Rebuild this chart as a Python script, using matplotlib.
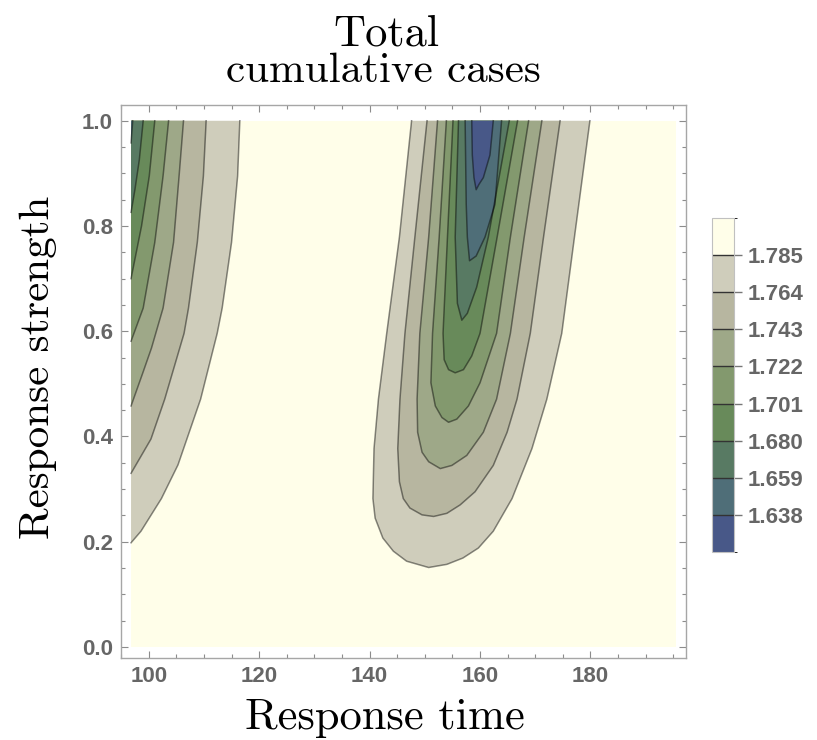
import matplotlib
matplotlib.use("Agg")
import matplotlib.pyplot as plt
from matplotlib.colors import ListedColormap, BoundaryNorm
from matplotlib.cm import ScalarMappable
from matplotlib.ticker import MultipleLocator

plt.rcParams['font.family'] = ['Liberation Sans', 'DejaVu Sans']
plt.rcParams['font.weight'] = 'bold'

# contour levels shown on the colour bar
levels = [1.638, 1.659, 1.680, 1.701, 1.722, 1.743, 1.764, 1.785]
bar_edges = [1.617] + levels + [1.806]
band_colors = ['#485888', '#4f6e78', '#587a63', '#688a5a', '#83996e',
               '#9ea888', '#b7b6a0', '#cfcdbb', '#fffee9']

# plotted data range
x_min, x_max = 96.8, 195.5
y_min, y_max = 0.0, 1.0

# left lobe contours, (response time, response strength), top edge -> left edge
left_1785 = [(116.5, 1.0), (116.1, 0.895), (115.0, 0.769), (113.3, 0.644), (112.4, 0.596),
             (109.4, 0.471), (105.3, 0.346), (102.3, 0.282), (98.6, 0.220), (96.8, 0.198)]
left_1764 = [(110.4, 1.0), (109.9, 0.895), (108.8, 0.769), (107.2, 0.644), (106.4, 0.596),
             (102.9, 0.471), (100.4, 0.395), (96.8, 0.330)]
left_1743 = [(106.3, 1.0), (105.5, 0.895), (104.5, 0.769), (102.6, 0.644), (100.5, 0.568),
             (98.9, 0.520), (96.8, 0.458)]
left_1722 = [(103.6, 1.0), (102.6, 0.895), (101.1, 0.769), (99.0, 0.644), (96.8, 0.581)]
left_1701 = [(101.1, 1.0), (100.1, 0.895), (98.7, 0.800), (96.8, 0.700)]
left_1680 = [(99.0, 1.0), (98.3, 0.926), (97.5, 0.869), (96.8, 0.826)]
left_1659 = [(97.1, 1.0), (96.8, 0.958)]

# right lobe contours, top edge -> tip -> top edge
right_1785 = [(147.6, 1.0), (145.4, 0.779), (143.1, 0.596), (141.6, 0.471), (140.8, 0.377),
              (140.6, 0.282), (141.0, 0.245), (142.4, 0.207), (144.3, 0.182), (146.7, 0.163),
              (150.7, 0.151), (154.0, 0.157), (156.9, 0.169), (159.7, 0.188), (162.4, 0.220),
              (165.8, 0.282), (169.4, 0.377), (172.1, 0.471), (174.8, 0.596), (177.1, 0.779),
              (179.9, 1.0)]
right_1764 = [(150.4, 1.0), (148.2, 0.779), (146.4, 0.596), (145.5, 0.471), (145.1, 0.377),
              (145.4, 0.314), (146.1, 0.282), (147.3, 0.264), (149.5, 0.251), (151.6, 0.248),
              (154.0, 0.254), (156.4, 0.270), (159.1, 0.295), (162.4, 0.345), (164.9, 0.408),
              (166.7, 0.471), (169.1, 0.596), (171.5, 0.779), (174.5, 1.0)]
right_1743 = [(152.3, 1.0), (150.7, 0.779), (149.1, 0.596), (148.6, 0.471), (148.7, 0.408),
              (149.5, 0.370), (150.7, 0.352), (152.8, 0.339), (154.9, 0.345), (157.6, 0.364),
              (160.6, 0.408), (163.0, 0.471), (165.5, 0.596), (168.0, 0.779), (171.2, 1.0)]
right_1722 = [(153.9, 1.0), (152.6, 0.779), (151.4, 0.596), (151.1, 0.502), (151.9, 0.458),
              (153.1, 0.436), (154.3, 0.427), (155.8, 0.433), (157.9, 0.458), (160.0, 0.502),
              (163.0, 0.596), (165.5, 0.779), (168.8, 1.0)]
right_1701 = [(155.1, 1.0), (154.1, 0.779), (153.3, 0.596), (153.5, 0.546), (154.3, 0.527),
              (155.5, 0.521), (157.0, 0.527), (158.5, 0.553), (160.0, 0.596), (163.1, 0.779),
              (166.8, 1.0)]
right_1680 = [(156.1, 1.0), (155.5, 0.779), (155.9, 0.653), (156.7, 0.621), (157.7, 0.634),
              (159.4, 0.684), (161.5, 0.779), (165.3, 1.0)]
right_1659 = [(157.3, 1.0), (157.5, 0.841), (157.7, 0.779), (158.1, 0.734), (159.3, 0.743),
              (160.9, 0.779), (162.7, 0.841), (163.9, 1.0)]
right_1638 = [(158.5, 1.0), (158.6, 0.935), (158.9, 0.892), (159.3, 0.869), (159.8, 0.879),
              (160.6, 0.892), (161.8, 0.935), (162.4, 1.0)]

left_lobe = [(1.785, left_1785), (1.764, left_1764), (1.743, left_1743), (1.722, left_1722),
             (1.701, left_1701), (1.680, left_1680), (1.659, left_1659)]
right_lobe = [(1.785, right_1785), (1.764, right_1764), (1.743, right_1743), (1.722, right_1722),
              (1.701, right_1701), (1.680, right_1680), (1.659, right_1659), (1.638, right_1638)]

fig = plt.figure(figsize=(8.17, 7.4), dpi=100)
ax = fig.add_axes([121 / 817, 82 / 740, 565 / 817, 553 / 740])
ax.set_xlim(94.98, 197.3)
ax.set_ylim(-0.021, 1.030)

# background = highest band
ax.fill([x_min, x_max, x_max, x_min], [y_min, y_min, y_max, y_max],
        color=band_colors[-1], lw=0, zorder=1)

for lev, pts in left_lobe:
    xs = [p[0] for p in pts]
    ys = [p[1] for p in pts]
    ax.fill(xs + [x_min], ys + [y_max], color=band_colors[levels.index(lev)], lw=0, zorder=2)
for lev, pts in right_lobe:
    xs = [p[0] for p in pts]
    ys = [p[1] for p in pts]
    ax.fill(xs, ys, color=band_colors[levels.index(lev)], lw=0, zorder=2)

# contour lines
for lev, pts in left_lobe + right_lobe:
    ax.plot([p[0] for p in pts], [p[1] for p in pts], color='black', alpha=0.45,
            lw=1.1, zorder=3, solid_joinstyle='round')

ax.xaxis.set_major_locator(MultipleLocator(20))
ax.xaxis.set_minor_locator(MultipleLocator(5))
ax.yaxis.set_major_locator(MultipleLocator(0.2))
ax.yaxis.set_minor_locator(MultipleLocator(0.05))
ax.tick_params(which='both', direction='in', top=True, right=True, color='#8c8c8c', width=0.8)
ax.tick_params(which='major', length=5, labelsize=16, labelcolor='#666666', pad=6)
ax.tick_params(which='minor', length=3)
for sp in ax.spines.values():
    sp.set_color('#a6a6a6')
    sp.set_linewidth(1.0)

# colour bar
cax = fig.add_axes([712 / 817, 188 / 740, 22 / 817, 334 / 740])
cmap = ListedColormap(band_colors)
norm = BoundaryNorm(bar_edges, cmap.N)
cb = fig.colorbar(ScalarMappable(norm=norm, cmap=cmap), cax=cax, ticks=levels,
                  spacing='proportional', format='%.3f')
cb.outline.set_edgecolor('#c0c0c0')
cb.outline.set_linewidth(0.8)
cax.tick_params(length=6, width=1, color='#777777', labelsize=16, labelcolor='#666666', pad=4)
for lev in levels:
    cax.axhline(lev, color='#333333', lw=1.0)

# titles and axis labels (Computer Modern like Mathematica's TeX style)
cm = dict(fontfamily='cmr10', fontweight='normal', color='black')
fig.text(386 / 817, 1 - 45 / 740, 'Total', fontsize=32, ha='center', va='baseline', **cm)
fig.text(383 / 817, 1 - 82 / 740, 'cumulative cases', fontsize=31, ha='center', va='baseline', **cm)
fig.text(385 / 817, 1 - 729 / 740, 'Response time', fontsize=32, ha='center', va='baseline', **cm)
fig.text(38 / 817, 1 - 367 / 740, 'Response strength', fontsize=31, rotation=90,
         ha='center', va='center', **cm)

fig.savefig('out.png', dpi=100)
